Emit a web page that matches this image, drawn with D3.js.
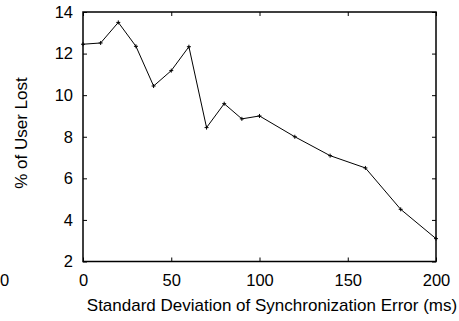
<!DOCTYPE html>
<html><head><meta charset="utf-8">
<script src="https://cdn.jsdelivr.net/npm/d3@7"></script>
<style>body{margin:0;background:#fff}svg{display:block}text{font-family:"Liberation Sans",Arial,sans-serif;fill:#000}</style>
</head><body><svg id="c" width="459" height="321"></svg>
<script>
const xValues = [0,10,20,30,40,50,60,70,80,90,100,120,140,160,180,200];
const userLost = [12.45,12.51,13.5,12.35,10.44,11.18,12.33,8.44,9.59,8.86,9.0,8.0,7.09,6.5,4.51,3.1];
const xTicks = [0,50,100,150,200];
const yTicks = [2,4,6,8,10,12,14];
const xLabel = "Standard Deviation of Synchronization Error (ms)";
const yLabel = "% of User Lost";

const svg = d3.select("#c");
const L=83, R=436, T=12, B=261.5;
const x = d3.scaleLinear().domain([0,200]).range([L,R]);
const y = d3.scaleLinear().domain([2,14]).range([B,T]);
const fs = 16.5, lfs = 17;

// stray tick label from neighbouring plot
svg.append("text").attr("x",0).attr("y",286).attr("font-size",fs).text("0");

const g = svg.append("g");
// inward ticks on all sides
g.append("g").attr("transform",`translate(0,${B})`).call(d3.axisBottom(x).tickValues(xTicks).tickSize(-4).tickPadding(13).tickSizeOuter(0));
g.append("g").attr("transform",`translate(0,${T})`).call(d3.axisTop(x).tickValues(xTicks).tickSize(-4).tickFormat("").tickSizeOuter(0));
g.append("g").attr("transform",`translate(0,0)`).attr("transform",`translate(${L},0)`).call(d3.axisLeft(y).tickValues(yTicks).tickSize(-4).tickPadding(10).tickSizeOuter(0));
g.append("g").attr("transform",`translate(${R},0)`).call(d3.axisRight(y).tickValues(yTicks).tickSize(-4).tickFormat("").tickSizeOuter(0));
g.selectAll(".domain").remove();
g.selectAll(".tick line").attr("stroke","#000").attr("stroke-width",1);
g.selectAll(".tick text").attr("font-size",fs).attr("font-family","Liberation Sans, Arial, sans-serif").attr("fill","#000");

svg.append("rect").attr("x",L).attr("y",T).attr("width",R-L).attr("height",B-T)
  .attr("fill","none").attr("stroke","#000").attr("stroke-width",1.5);

const pts = xValues.map((v,i)=>[x(v),y(userLost[i])]);
svg.append("path").attr("d",d3.line()(pts)).attr("fill","none").attr("stroke","#000").attr("stroke-width",1);
svg.selectAll(".m").data(pts).enter().append("path")
  .attr("d",d=>`M${d[0]-2},${d[1]}H${d[0]+2}M${d[0]},${d[1]-2}V${d[1]+2}`)
  .attr("stroke","#000").attr("stroke-width",1);

svg.append("text").attr("x",272).attr("y",311).attr("text-anchor","middle").attr("font-size",lfs).text(xLabel);
svg.append("text").attr("transform",`translate(27,133) rotate(-90)`).attr("text-anchor","middle").attr("font-size",lfs).text(yLabel);
</script></body></html>
